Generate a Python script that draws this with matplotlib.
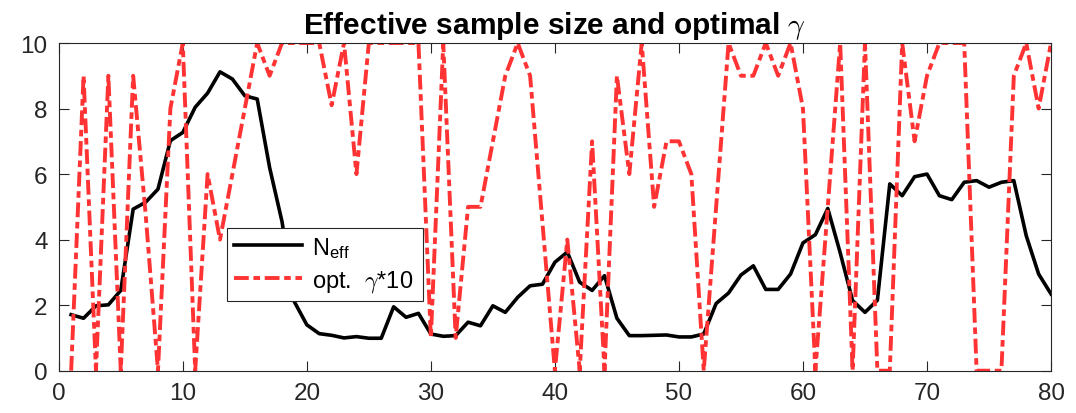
import numpy as np
import matplotlib
matplotlib.use('Agg')
import matplotlib.pyplot as plt

plt.rcParams['font.family'] = ['Liberation Sans', 'DejaVu Sans']
plt.rcParams['mathtext.fontset'] = 'cm'

steps = list(range(1, 81))

n_eff = [1.71, 1.60, 1.98, 2.01, 2.45, 4.93, 5.14, 5.54, 7.02, 7.27,
         8.04, 8.47, 9.12, 8.90, 8.39, 8.29, 6.20, 4.55, 2.10, 1.40,
         1.13, 1.08, 1.00, 1.04, 0.99, 0.99, 1.95, 1.63, 1.75, 1.12,
         1.05, 1.07, 1.48, 1.37, 1.98, 1.78, 2.24, 2.59, 2.64, 3.31,
         3.62, 2.70, 2.45, 2.90, 1.60, 1.07, 1.07, 1.08, 1.09, 1.03,
         1.03, 1.12, 2.05, 2.37, 2.92, 3.20, 2.48, 2.48, 2.95, 3.90,
         4.15, 4.95, 3.60, 2.14, 1.78, 2.15, 5.70, 5.34, 5.92, 6.00,
         5.34, 5.22, 5.75, 5.80, 5.60, 5.75, 5.80, 4.12, 2.95, 2.34]

gamma10 = [0, 9, 0, 9, 0, 9, 4.8, 0, 8, 10,
           0, 6, 4, 6, 8, 10, 9, 10, 10, 10,
           10, 8.1, 10, 6, 10, 10, 10, 10, 10, 1,
           10, 1, 5, 5, 7, 9, 10, 9, 4.5, 0,
           4, 0, 7, 0, 9, 6, 10, 5, 7, 7,
           6, 0, 5, 10, 9, 9, 10, 9, 10, 8,
           0, 5, 10, 0, 10, 0, 0, 10, 7, 9,
           10, 10, 10, 0, 0, 0, 9, 10, 8, 10]

x_ticks = [0, 10, 20, 30, 40, 50, 60, 70, 80]
y_ticks = [0, 2, 4, 6, 8, 10]

fig = plt.figure(figsize=(10.76, 4.14), dpi=100)
ax = fig.add_axes([0.0546, 0.1022, 0.9222, 0.7915])

ax.plot(steps, n_eff, color='black', linewidth=2.6, label=r'$\mathregular{N_{eff}}$')
ax.plot(steps, gamma10, color='#ff3333', linewidth=2.8,
        linestyle=(0, (3.8, 1.2, 1.7, 1.2)), label=r'opt.  $\gamma$*10')

ax.set_xlim(0, 80)
ax.set_ylim(0, 10)
ax.set_xticks(x_ticks)
ax.set_yticks(y_ticks)
ax.tick_params(direction='in', length=7, width=0.8, colors='#262626',
               labelsize=17.5, top=True, right=True, pad=8)
for s in ax.spines.values():
    s.set_color('#262626')
    s.set_linewidth(0.8)

ax.set_title(r'Effective sample size and optimal $\gamma$', fontsize=21.5,
             fontweight='bold', pad=7)

leg = ax.legend(loc='lower left', bbox_to_anchor=(0.1697, 0.2127, 0.1976, 0.241),
                mode='expand', borderaxespad=0, fontsize=17, fancybox=False,
                framealpha=1, edgecolor='#262626', handlelength=2.85,
                handletextpad=0.45, labelspacing=0.35, borderpad=0.3)
leg.get_frame().set_linewidth(0.8)

fig.savefig('out.png', dpi=100)
